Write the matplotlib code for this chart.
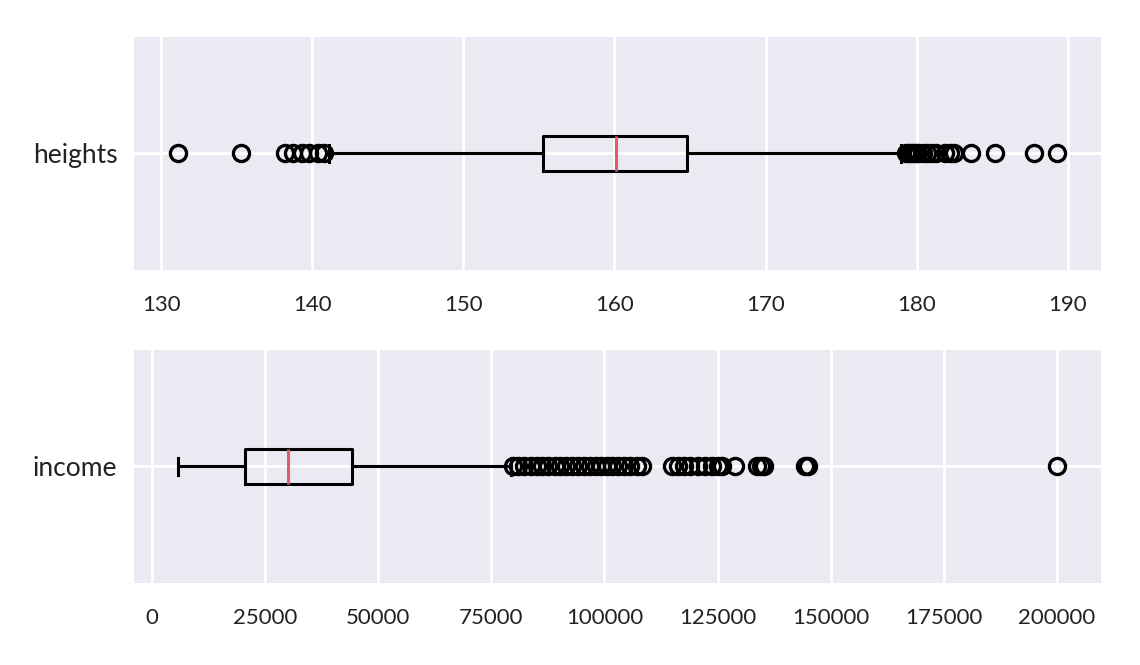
import matplotlib
matplotlib.use("Agg")
import matplotlib.pyplot as plt

# ---- data ----
heights_stats = dict(whislo=141.1, q1=155.26, med=160.09, q3=164.79, whishi=179.0)
heights_fliers = [131.1, 135.3, 138.2, 138.7, 139.3, 139.8, 140.4, 140.8,
                  179.3, 179.5, 179.7, 179.9, 180.1, 180.4, 180.7, 181.0, 181.3,
                  181.9, 182.2, 182.5, 183.6, 185.2, 187.8, 189.3]

income_stats = dict(whislo=5750, q1=20550, med=30060, q3=44200, whishi=79300)
income_fliers = [79780, 80880, 82210, 83760, 85080, 86190, 87510, 89060, 90170,
                 91490, 92820, 94140, 95470, 96800, 98120, 99230, 100550, 101660,
                 102980, 104310, 105640, 107180, 108290, 114920, 116240, 117570,
                 118900, 120660, 122210, 123760, 125080, 125970, 128840, 133700,
                 134590, 135250, 144310, 144970, 200000]

labels = ["heights", "income"]
heights_ticks = [130, 140, 150, 160, 170, 180, 190]
income_ticks = [0, 25000, 50000, 75000, 100000, 125000, 150000, 175000, 200000]

BG = "#EAEAF2"
MED = "#E5596F"
plt.rcParams["font.family"] = ["Lato", "DejaVu Sans"]

fig = plt.figure(figsize=(5.7, 3.325), dpi=200)
ax1 = fig.add_axes([0.1175, 0.594, 0.8483, 0.3504])
ax2 = fig.add_axes([0.1175, 0.1233, 0.8483, 0.3504])

def draw(ax, stats, fliers, label, ticks):
    st = dict(stats)
    st["fliers"] = fliers
    st["label"] = label
    ax.set_facecolor(BG)
    lw = 1.1
    ax.bxp([st], vert=False, widths=0.15,
           boxprops=dict(color="black", linewidth=lw),
           whiskerprops=dict(color="black", linewidth=lw),
           capprops=dict(color="black", linewidth=lw),
           medianprops=dict(color=MED, linewidth=lw),
           flierprops=dict(marker="o", markersize=5.8, markerfacecolor="none",
                           markeredgecolor="black", markeredgewidth=1.2))
    ax.set_xticks(ticks)
    ax.set_xticklabels([str(t) for t in ticks])
    ax.grid(True, color="white", linewidth=1.0)
    ax.set_axisbelow(True)
    for s in ax.spines.values():
        s.set_visible(False)
    ax.tick_params(axis="both", length=0, colors="#222222")
    ax.tick_params(axis="x", pad=9, labelsize=8)
    ax.tick_params(axis="y", pad=6, labelsize=9.5)
    ax.margins(x=0.05)
    ax.set_ylim(0.5, 1.5)

draw(ax1, heights_stats, heights_fliers, labels[0], heights_ticks)
draw(ax2, income_stats, income_fliers, labels[1], income_ticks)

fig.savefig("out.png", dpi=200, facecolor="white")
